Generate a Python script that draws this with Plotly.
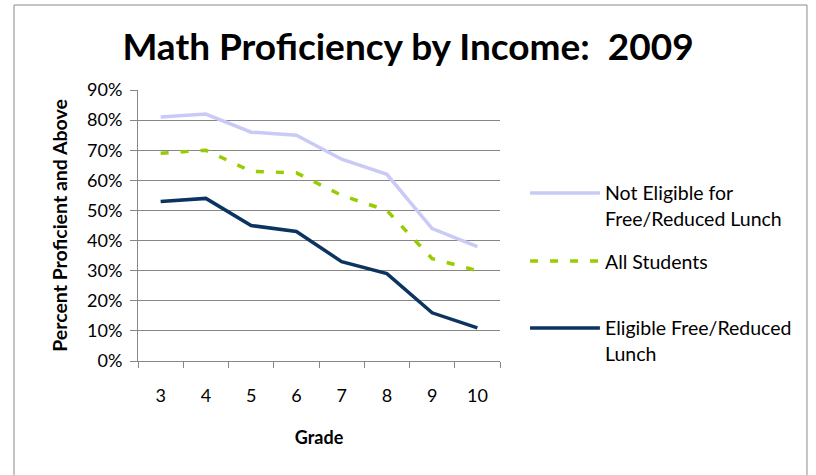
import plotly.graph_objects as go

grades = ["3", "4", "5", "6", "7", "8", "9", "10"]
not_eligible = [81, 82, 76, 75, 67, 62, 44, 38]
all_students = [69, 70, 63, 62.5, 55, 50, 34, 30]
eligible = [53, 54, 45, 43, 33, 29, 16, 11]

series = [
    (["Not Eligible for", "Free/Reduced Lunch"], not_eligible, "#C9CBF6", "solid"),
    (["All Students"], all_students, "#99CC00", "8px,12px"),
    (["Eligible Free/Reduced", "Lunch"], eligible, "#0B3560", "solid"),
]

FONT = "Lato"
PLOT_H = 475 - 90 - 114
fig = go.Figure()
for label, vals, color, dash in series:
    fig.add_trace(go.Scatter(
        x=grades, y=[v / 100 for v in vals], mode="lines", name=" ".join(label),
        line=dict(color=color, width=3.5, dash=dash), showlegend=False,
    ))

# Hand-drawn legend to the right of the plot area
legend_rows = [0.62, 0.369, 0.122]
for (label, vals, color, dash), yy in zip(series, legend_rows):
    fig.add_shape(type="line", xref="paper", yref="paper",
                  x0=1.083, x1=1.276, y0=yy, y1=yy,
                  line=dict(color=color, width=3.5, dash=dash))
    for i, line_text in enumerate(label):
        fig.add_annotation(xref="paper", yref="paper", x=1.285,
                           y=yy - i * 26 / PLOT_H,
                           xanchor="left", yanchor="middle", text=line_text,
                           showarrow=False, align="left",
                           font=dict(family=FONT, size=19.5, color="#000"))

# Outer chart border
fig.add_shape(type="rect", xref="paper", yref="paper",
              x0=-0.3425, x1=1.848, y0=-0.45, y1=1.3137,
              line=dict(color="#8a8a8a", width=1), layer="below")

fig.update_layout(
    width=816, height=475,
    margin=dict(l=138, r=316, t=90, b=114),
    paper_bgcolor="white", plot_bgcolor="white",
    font=dict(family=FONT, size=18, color="#000"),
    title=dict(text="<b>Math Proficiency by Income:  2009</b>",
               x=0.5, xanchor="center", y=0.9, yanchor="middle",
               font=dict(family=FONT, size=37, color="#000")),
    xaxis=dict(type="category", tickson="boundaries", ticks="outside",
               ticklen=6, tickcolor="#868686", showline=True,
               linecolor="#868686", linewidth=1, showgrid=False,
               ticklabelstandoff=18,
               title=dict(text="<b>Grade</b>", font=dict(size=18), standoff=26),
               range=[-0.5, 7.5]),
    yaxis=dict(range=[0, 0.9], dtick=0.1, tickformat=".0%",
               ticks="outside", ticklen=7, tickcolor="#868686",
               showline=True, linecolor="#868686", linewidth=1,
               showgrid=True, gridcolor="#868686", gridwidth=1,
               zeroline=False, ticklabelstandoff=4,
               title=dict(text="<b>Percent Proficient and Above</b>",
                          font=dict(size=19.5), standoff=14)),
)

fig.write_html("out.html")
